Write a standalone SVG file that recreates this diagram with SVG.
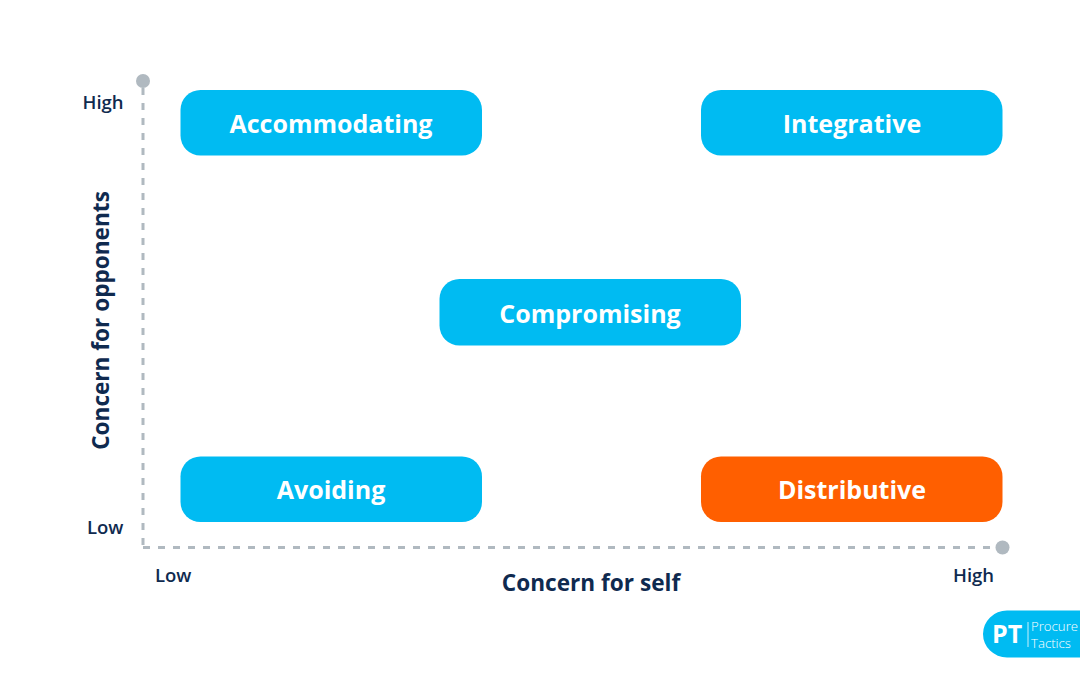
<svg xmlns="http://www.w3.org/2000/svg" width="1080" height="675" viewBox="0 0 1080 675">
<style>
.n{font-family:"Open Sans","Noto Sans",sans-serif;font-weight:700;font-size:25px;fill:#fff;text-anchor:middle}
.l{font-family:"Open Sans","Noto Sans",sans-serif;font-weight:600;font-size:18.500px;fill:#0f2a4f}
.a{font-family:"Open Sans","Noto Sans",sans-serif;font-weight:700;font-size:22.600px;fill:#0f2a4f;text-anchor:middle}
.d{stroke:#b0b9c0;stroke-width:3;stroke-dasharray:7 8;fill:none}
.b{fill:#00bbf2}
.t{font-family:"Open Sans",sans-serif;font-weight:300;font-size:13.200px;fill:#fff}
</style>
<rect width="1080" height="675" fill="#fff"/>
<g id="connectors">
<path class="d" d="M143 88V547"/>
<path class="d" d="M143 547.500H1000"/>
<circle cx="143" cy="81" r="7" fill="#b0b9c0"/>
<circle cx="1002.500" cy="547.500" r="7" fill="#b0b9c0"/>
</g>
<g id="accommodating"><rect class="b" x="180.500" y="90" width="301.500" height="65.500" rx="20"/><text class="n" x="331" y="132.500">Accommodating</text></g>
<g id="integrative"><rect class="b" x="701" y="90" width="301.500" height="65.500" rx="20"/><text class="n" x="852" y="132.500">Integrative</text></g>
<g id="compromising"><rect class="b" x="439.500" y="279" width="301.500" height="66.500" rx="20"/><text class="n" x="590" y="322.500">Compromising</text></g>
<g id="avoiding"><rect class="b" x="180.500" y="456.500" width="301.500" height="65.500" rx="20"/><text class="n" x="331" y="499">Avoiding</text></g>
<g id="distributive"><rect x="701" y="456.500" width="301.500" height="65.500" rx="20" fill="#ff5f00"/><text class="n" x="852" y="499">Distributive</text></g>
<g id="axis-labels">
<text class="l" x="82.500" y="109">High</text>
<text class="l" x="87" y="534">Low</text>
<text class="l" x="155" y="581.500">Low</text>
<text class="l" x="953" y="581.500">High</text>
<text class="a" x="591" y="591">Concern for self</text>
<text class="a" transform="translate(109 320.500) rotate(-90)">Concern for opponents</text>
</g>
<g id="logo">
<path d="M1080 610.500H1007a24 23.500 0 0 0 -24 23.500a24 23.500 0 0 0 24 23.500H1080Z" fill="#00bbf2"/>
<text x="992" y="643" font-family="'Open Sans',sans-serif" font-weight="700" font-size="25" fill="#fff">PT</text>
<path d="M1028 622V647" stroke="#fff" stroke-width="0.800"/>
<text class="t" x="1031" y="631">Procure</text>
<text class="t" x="1031" y="647.500">Tactics</text>
</g>
</svg>
